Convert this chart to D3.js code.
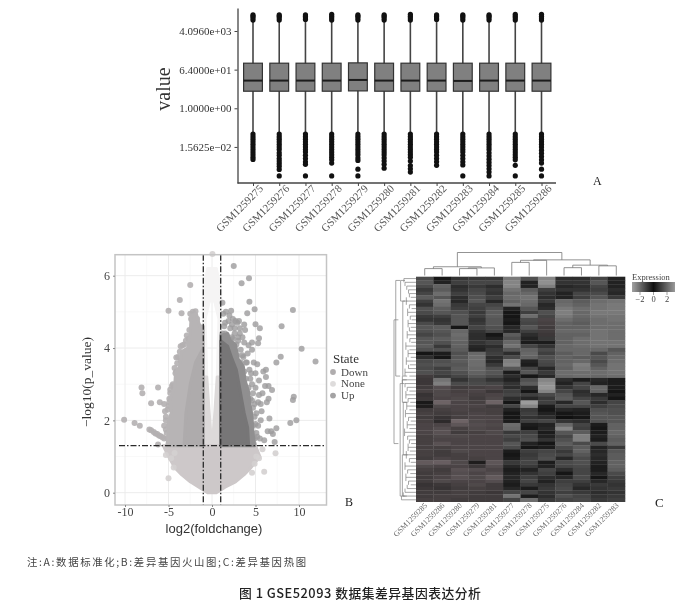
<!DOCTYPE html>
<html><head><meta charset="utf-8">
<script src="https://cdn.jsdelivr.net/npm/d3@7"></script>
<style>
html,body{margin:0;padding:0;background:#fff}
svg{display:block;filter:blur(.5px)}
text{font-family:"Liberation Serif",serif}
</style></head><body>
<svg id="c" width="700" height="613"></svg>
<script>
// ---------- Panel A: boxplots (log2 units) ----------
const boxSamples=["GSM1259275","GSM1259276","GSM1259277","GSM1259278","GSM1259279","GSM1259280","GSM1259281","GSM1259282","GSM1259283","GSM1259284","GSM1259285","GSM1259286"];
const boxQ1=[2.65,2.65,2.65,2.65,2.7,2.65,2.65,2.65,2.65,2.65,2.65,2.65];
const boxMedian=[4.3,4.3,4.3,4.3,4.4,4.3,4.3,4.3,4.25,4.3,4.3,4.3];
const boxQ3=[7.0,7.0,7.0,7.0,7.05,7.0,7.0,7.0,7.0,7.0,7.0,7.0];
const whiskerLow=-3.9, whiskerHigh=13.6;
const upperOutliers=[[13.7,14,14.3,14.5],[13.7,14,14.3,14.5],[13.8,14,14.3,14.5],[13.7,14,14.3,14.6],[13.7,14,14.3,14.5],[13.7,14,14.3,14.5],[13.7,14,14.3,14.6],[13.8,14,14.3,14.5],[13.7,14,14.3,14.5],[13.7,14,14.3,14.5],[13.7,14,14.3,14.6],[13.7,14,14.3,14.6]];
const lowerOutliers=[
[-4,-4.4,-4.8,-5.2,-5.6,-6,-6.4,-6.8,-7.2,-7.6,-7.95],
[-4,-4.4,-4.8,-5.2,-5.6,-6,-6.4,-6.9,-7.3,-7.8,-8.2,-8.6,-9,-9.5,-10.5],
[-4,-4.4,-4.8,-5.2,-5.6,-6,-6.4,-6.8,-7.3,-7.8,-8.3,-8.7,-10.5],
[-4,-4.4,-4.8,-5.2,-5.6,-6,-6.4,-6.8,-7.2,-7.6,-8,-8.5,-10.5],
[-4,-4.4,-4.8,-5.2,-5.6,-6,-6.4,-6.8,-7.2,-7.7,-8.1,-9.45,-10.5],
[-4,-4.4,-4.8,-5.2,-5.6,-6,-6.4,-6.8,-7.2,-7.7,-8.2,-8.7,-9.3],
[-4,-4.4,-4.8,-5.2,-5.6,-6,-6.4,-6.8,-7.2,-7.6,-8.2,-8.9,-9.4,-9.9],
[-4,-4.4,-4.8,-5.2,-5.6,-6,-6.4,-6.8,-7.3,-7.8,-8.3,-8.85],
[-4,-4.4,-4.8,-5.2,-5.6,-6,-6.4,-6.8,-7.3,-7.8,-8.3,-8.8,-10.5],
[-4,-4.4,-4.8,-5.2,-5.6,-6,-6.4,-6.9,-7.4,-7.9,-8.4,-8.9,-9.4,-9.9,-10.5],
[-4,-4.4,-4.8,-5.2,-5.6,-6,-6.4,-6.8,-7.2,-7.6,-8,-8.85,-10.5],
[-4,-4.4,-4.8,-5.2,-5.6,-6,-6.5,-7,-7.5,-8,-8.5,-9.45,-10.5]];
const boxTickValues=[-6,0,6,12];
const boxTickLabels=["1.5625e\u221202","1.0000e+00","6.4000e+01","4.0960e+03"];

// ---------- Panel B: volcano ----------
const upPoints=[[2.5,6.27],[3.4,5.79],[4.25,5.93],[4.3,5.28],[4.9,5.07],[1.2,5.25],[9.3,5.05],[8,4.6],[5,4.66],[5.5,4.55],[4.05,4.96],[2.2,5.03],[10.3,3.98],[11.9,3.63],[7.9,3.76],[7.4,3.6],[5.4,4.27],[5.3,4.13],[4.2,4.08],[4.6,3.95],[9.4,2.65],[9.3,2.56],[9.7,2],[9,1.93],[6.9,2.84],[6.5,2.6],[6.2,3.4],[6.2,3.2],[5.9,3.35],[5.2,3.55],[5,3.3],[4.8,3.6],[5.4,3.1],[6.1,2.95],[6.5,2.95],[5.8,2.75],[5.4,2.7],[5,2.9],[4.6,3],[5.6,2.45],[5.3,2.5],[5.7,2.25],[6.3,2.5],[5.1,2.2],[5.6,2.0],[6.6,2.05],[5.3,1.85],[5.1,1.65],[5.5,1.5],[6.4,1.7],[6.8,1.7],[7.4,1.78],[7.0,1.62],[7.2,1.4],[4.7,2.35],[4.4,2.6],[4.5,3.3],[3.9,3.6],[3.5,3.8],[4.1,3.85],[3.7,4.15],[3.0,4.2],[2.6,4.4],[3.2,4.55],[3.8,4.5],[3.7,4.65],[2.9,4.7],[2.4,4.8],[1.9,4.75],[2.1,4.55],[1.4,4.6],[2.3,4.3],[1.7,4.35],[1.3,4.25],[1.6,5.0],[3.1,4.75],[4.6,4.15],[5.0,1.9],[4.3,1.4],[4.8,1.35],[6.0,1.45],[1.3,4.95],[1.5,4.7],[2,4.9],[2.3,4.65],[2.7,4.75],[2.6,4.55],[3.2,4.4],[3,4.3],[3.5,4.3],[2.8,4.1],[3.3,3.95],[3.6,3.75],[4,3.6],[4.3,3.4],[3.7,3.35],[3.9,3.15],[4.4,3.15],[4.7,2.75],[4.2,2.9],[4.6,2.55],[4.9,2.45],[4.4,2.2],[4.9,2.1],[4.7,1.85],[5.2,1.55],[4.5,1.6],[4.9,1.5],[2.4,4.25],[2.1,4.2],[1.5,4.4],[1.2,4.4],[3.3,3.6],[2.9,3.8]];
const downPoints=[[-2.5,5.74],[-3.7,5.33],[-5,5.03],[-3.5,4.96],[-8.1,2.91],[-8,2.75],[-6.2,2.91],[-7,2.47],[-6,2.5],[-5.5,2.45],[-10.1,2.02],[-8.9,1.93],[-8.3,1.85],[-7.2,1.75],[-7,1.73],[-6.7,1.68],[-6.5,1.64],[-6.3,1.62],[-6.1,1.58],[-5.9,1.56],[-5.7,1.53],[-5.5,1.5],[-6.2,1.33],[-4.8,2.76],[-4.1,3.74],[-4,3.58],[-3.4,4.08],[-5,2.4],[-5.4,2.25],[-5.3,2],[-4.9,2.6],[-4.5,3],[-4.4,2.9],[-4.2,3.3],[-2.2,5],[-2.5,4.95],[-1.9,5.02],[-2.4,4.8],[-2.1,4.6],[-2.6,4.5],[-2.9,4.35],[-3,4.2],[-3.7,3.9],[-3.5,3.45],[-5.3,1.75],[-4.9,1.45],[-3.9,3.15],[-2.1,4.85],[-1.7,4.8],[-1.5,4.6],[-2.2,4.4],[-1.8,4.35],[-2.7,4.25],[-2.5,4.1],[-3.2,4.1],[-3.6,4.05],[-3.9,3.75],[-3.6,3.65],[-3.1,3.8],[-4.3,3.45],[-4.1,3.35],[-3.7,3.3],[-4.6,2.95],[-4.8,2.85],[-4.2,2.8],[-4.9,2.5],[-5.1,2.3],[-4.6,2.3],[-5.3,2.1],[-5.5,1.85],[-5.2,1.65],[-5.1,1.5],[-4.7,1.6],[-1.6,4.2],[-1.3,4.5]];
const nonePoints=[[-5.3,1.04],[-5,.4],[7.3,1.09],[6,.58],[5.1,1],[4.9,.8],[5.4,.95],[-4.7,.95],[-4.4,.7],[4.6,.55],[.05,6.6],[-4.3,1.1],[5.8,1.2]];
// envelopes of the dense clouds, [x, y]
const downCloud=[[-1,1.3],[-5.2,1.3],[-5,1.6],[-5.1,1.9],[-4.7,2.2],[-4.8,2.6],[-4.3,2.9],[-4.2,3.3],[-3.7,3.5],[-3.5,3.9],[-2.8,4.0],[-2.5,4.4],[-2.4,4.9],[-1.8,4.95],[-1.4,4.6],[-1,4.6]];
const downCore=[[-1,1.35],[-3.2,1.35],[-3,2.2],[-2.5,3],[-1.9,3.6],[-1,4]];
const upCloud=[[1,1.3],[4.9,1.3],[4.7,1.7],[4.6,2.1],[4.4,2.4],[4.2,2.8],[3.8,3.1],[3.6,3.5],[3,3.7],[2.7,4.1],[2.1,4.2],[1.8,4.4],[1,4.35]];
const upCore=[[1,1.35],[4.2,1.35],[4.1,1.8],[3.7,2.2],[3.4,2.6],[3.1,3],[2.8,3.4],[2.3,3.7],[1.8,4.05],[1,4.2]];
const noneCloud=[[0,0],[-.5,0],[-1.5,.15],[-2.5,.3],[-3.5,.5],[-4.3,.7],[-5,1],[-5.6,1.3],[5,1.3],[5.5,1],[4.5,.7],[3.7,.5],[2.7,.3],[1.5,.15],[.5,0]];
const noneWedgeLow=[[-1,1.3],[-1,3.2],[-.6,3.2],[-.35,2.3],[-.1,1.5],[.1,1.5],[.35,2.3],[.6,3.2],[1,3.2],[1,1.3]];
const noneWedgeHigh=[[-1,3.2],[-1,5.6],[-.5,6.2],[.5,6.2],[1,5.6],[1,3.2],[.6,3.2],[.8,4.8],[.3,5.3],[-.3,5.3],[-.8,4.8],[-.6,3.2]];
const volXTicks=[-10,-5,0,5,10], volYTicks=[0,2,4,6];
const volThresholdX=[-1,1], volThresholdY=1.3;
const stateNames=["Down","None","Up"];

// ---------- Panel C: heatmap ----------
const heatCols=["GSM1259285","GSM1259286","GSM1259280","GSM1259279","GSM1259281","GSM1259277","GSM1259278","GSM1259275","GSM1259276","GSM1259284","GSM1259282","GSM1259283"];
const heatRows=[
[-1.0,-.1,-.6,-.7,-.7,-1.8,-1.1,-2.0,-.5,-.5,-.9,-.3],
[-1.2,-.3,-.8,-.9,-.9,-2.0,-.3,-2.2,-.6,-.6,-1.2,-.3],
[-1.0,-1.4,-.5,-.7,-.5,-2.0,-.3,-1.9,-.4,-.5,-.9,-.3],
[-.7,-1.3,-.6,-.9,-.7,-1.7,-1.3,-.8,-.6,-.6,-.8,-.5],
[-.9,-1.6,-.8,-1.0,-.6,-1.5,-1.5,-.6,-.3,-.9,-1.0,-.4],
[-1.3,-1.2,-.5,-1.1,-.8,-1.6,-1.7,-.5,-.3,-.8,-1.2,-.7],
[-.8,-1.7,-.4,-1.2,-.4,-1.4,-1.6,-.7,-1.5,-1.3,-1.6,-1.7],
[-.6,-1.6,-.7,-.9,-.9,-1.7,-1.5,-.4,-1.6,-1.4,-1.7,-1.8],
[-1.1,-1.3,-.8,-.8,-1.1,-.3,-1.2,-.5,-1.8,-1.6,-1.7,-1.8],
[-1.0,-1.2,-1.1,-.7,-1.3,-.1,-.8,-1.1,-1.9,-1.5,-1.8,-1.8],
[-.7,-.8,-1.2,-.8,-1.3,-.1,-1.6,-.9,-1.8,-1.5,-1.7,-1.7],
[-.6,-.6,-1.2,-.6,-1.2,-.2,-1.0,1.2,-1.6,-1.4,-1.6,-1.7],
[-1.0,-.7,-1.2,-.7,-1.2,-.1,-.9,1.1,-1.4,-1.3,-1.6,-1.6],
[-1.2,-1.3,-.1,-.9,-1.1,-.4,-1.2,1.0,-1.4,-1.4,-1.6,-1.6],
[-1.1,-1.2,-1.5,-.6,-.9,-.4,-.8,1.0,-1.5,-1.5,-1.7,-1.6],
[-.9,-1.1,-1.6,-.5,-.1,-1.3,-.5,.9,-1.4,-1.4,-1.7,-1.6],
[-1.2,-1.3,-1.5,-.5,-.3,-1.1,-.3,-.7,-1.4,-1.6,-1.7,-1.6],
[-1.2,-1.1,-1.4,-.6,-.8,-1.5,-.2,-.2,-1.4,-1.6,-1.7,-1.7],
[-1.3,-.7,-1.4,-.4,-.5,-1.7,-.9,-.6,-1.5,-1.6,-1.7,-1.7],
[-1.1,-1.1,-1.3,-.3,-.7,-1.2,-1.4,-1.0,-1.5,-1.5,-1.5,-1.2],
[-.1,-.2,-1.1,-1.5,-.8,-.5,-1.5,-.8,-1.3,-1.5,-1.0,-1.4],
[-.5,-.1,-1.2,-1.6,-.5,-1.0,-1.4,-1.1,-1.4,-1.3,-1.2,-1.5],
[-1.0,-1.1,-1.3,-1.6,-.4,-1.9,-.3,-1.0,-1.4,-1.5,-1.0,-1.6],
[-1.1,-1.2,-1.2,-1.6,-.7,-2.0,-.2,-.9,-1.5,-1.9,-1.2,-1.7],
[-1.0,-.8,-1.3,-1.5,-1.1,-1.2,-.9,-.4,-1.4,-1.8,-1.4,-1.7],
[-1.1,-.9,-1.1,-1.4,-1.2,-.2,-1.2,-.7,-1.6,-1.6,-1.6,-1.7],
[1.0,-.7,-.9,-1.2,-1.0,-.5,-.1,-.4,-1.5,-1.6,-1.5,-1.6],
[.9,-1.7,-.6,-.9,-.6,-.3,-1.1,-2.0,-.5,-.2,-.4,-.2],
[.9,-1.9,-1.0,-1.0,-.9,-.6,-1.3,-2.2,-.3,-.9,-.3,-.2],
[1.0,1.4,1.0,1.1,1.2,-.5,-.5,-2.3,-.6,-.9,-1.5,-.2],
[1.1,1.3,1.1,1.2,.9,-.8,-.1,-2.0,-.9,-.5,-1.4,-.1],
[.8,1.3,1.2,1.1,1.2,-.9,-.8,-1.0,-1.2,-.6,-.4,-.3],
[.9,1.2,1.3,1.0,1.3,-.5,-.4,-.7,-1.3,-.9,-.7,-.1],
[.2,1.9,1.2,1.1,1.9,-.1,-2.4,-.8,-.4,-1.2,-.5,-.9],
[.3,1.3,1.2,1.2,1.0,-.9,-2.0,-.2,-.9,-.9,-.8,-1.0],
[1.0,1.1,1.2,1.1,1.1,-.3,-.7,-.1,-.4,-.3,-1.1,-1.1],
[1.1,1.0,1.1,1.2,1.1,-.1,-.8,-.3,-.1,-.2,-1.2,-1.1],
[1.0,.8,1.1,1.2,1.2,-.1,-.6,-.5,0,-.1,-1.2,-1.2],
[1.1,.6,1.9,1.3,1.2,-.2,-.8,-.9,-.6,-.5,-1.1,-1.2],
[1.2,1.2,1.6,1.4,1.3,-1.6,-.2,-.3,-1.5,-.9,-.2,-1.4],
[1.2,1.4,1.1,1.3,1.2,-1.5,-.1,-.4,-2.0,-.8,-.1,-1.4],
[1.2,1.5,1.0,1.1,1.3,-.7,-.8,-.2,-1.2,-1.3,-.2,-1.5],
[1.1,1.3,1.3,1.2,1.2,-1.0,-1.0,-.3,-.9,-1.9,-.3,-1.4],
[1.1,1.2,1.2,1.2,1.2,-.8,-1.1,-.6,-1.1,-1.9,-.2,-1.3],
[1.1,1.5,1.2,1.2,1.2,-1.2,-.3,-.1,-1.3,-1.0,-1.0,-1.4],
[1.1,1.1,1.2,1.2,1.2,-1.0,-.1,-.2,-1.0,-1.3,-.3,-.7],
[1.1,1.0,1.3,1.2,1.2,-.2,-.8,-.9,-.7,-1.4,-.4,-1.2],
[1.1,1.0,1.1,1.2,1.2,-.1,-.7,-1.0,-.9,-1.2,-.5,-1.3],
[1.0,1.2,1.1,1.1,1.2,-.2,-.8,-1.1,-.4,-1.0,-.4,-1.3],
[1.7,1.8,1.3,.3,1.6,-.7,-.9,-.2,-1.0,-1.1,-.3,-1.4],
[1.3,1.2,1.2,.9,1.4,-.4,-.7,-.3,-.9,-1.0,-.2,-1.4],
[1.1,1.0,1.5,1.4,1.2,-.2,-.3,-.9,-.5,-.9,-.2,-1.3],
[1.0,1.1,1.4,1.2,1.4,-.3,-.6,-.8,-.1,-.9,-.4,-1.0],
[1.0,1.2,1.5,1.3,1.7,-.4,-.8,-.5,-.4,-1.0,-.1,-.8],
[1.0,1.3,1.2,1.2,1.4,-.3,-.9,-.3,-.8,-.8,-.4,-.7],
[.8,.9,1.1,1.3,1.0,-.2,-.7,-.6,-.9,-.6,-.7,-.6],
[.9,.8,1.0,1.1,1.0,-.4,-.2,-.7,-1.0,-.4,-.6,-.7],
[1.0,1.0,1.1,1.0,.9,-.9,-.9,-.6,-.8,-.7,-.5,-.6],
[1.0,1.1,1.1,1.0,1.0,-1.7,-.2,-.5,-1.1,-.9,-.6,-.7],
[1.1,1.1,1.0,1.0,1.0,-.9,-1.6,-.7,-.9,-1.0,-.7,-.8]];
const heatColorStops=[-2.5,0,2.5];
const heatColorRange=["#a2a2a2","#101010","#8a7d80"];
const legendTicks=[-2,0,2];
// dendrograms: [height,left,right], leaves are column positions
const colTree=[1,[.38,[.3,0,1],[.33,[.3,2,3],4]],[.68,[.66,[.57,5,6],7],[.45,[.34,8,9],[.42,10,11]]]];
const rowLeafHeight=[.55,.5,.42,.34,.3,.24,.44,.3,.2,.38,.26,.2,.36,.24,.3,.4,.28,.22,.46,.3,.36,.24,.44,.28,.34,.5,.3,.62,.5,.4,.3,.46,.36,.26,.42,.3,.48,.34,.24,.4,.3,.52,.38,.3,.22,.36,.28,.44,.3,.24,.5,.38,.26,.46,.34,.24,.4,.5,.58,.66];
const rowBrackets=[[0.5,26,.92],[28,58,.72],[11,44,1],[0.5,6,.7],[6,26,.6],[27,33,.62],[33,47,.58],[47,58,.62]];

// ---------- Drawing ----------
const svg=d3.select("#c");

// A
const ax=d3.scalePoint().domain(boxSamples).range([253,541.5]);
const ay=d3.scaleLinear().domain([-11.6,15.57]).range([183,8]);
const A=svg.append("g");
const ayAxis=A.append("g").attr("transform","translate(237.5,0)")
  .call(d3.axisLeft(ay).tickValues(boxTickValues).tickFormat((d,i)=>boxTickLabels[i]).tickSizeInner(3).tickSizeOuter(0).tickPadding(3));
const axAxis=A.append("g").attr("transform","translate(0,183)")
  .call(d3.axisBottom(ax).tickSizeInner(3).tickSizeOuter(0));
axAxis.select(".domain").attr("d","M237.5,0H556");
[ayAxis,axAxis].forEach(g=>{g.select(".domain").attr("stroke","#444").attr("stroke-width",1.3);g.selectAll("line").attr("stroke","#444")});
ayAxis.selectAll("text").attr("font-size",11).attr("fill","#333").style("font-family","Liberation Serif");
axAxis.selectAll("text").attr("font-size",10.8).attr("fill","#555").style("font-family","Liberation Serif")
  .attr("text-anchor","end").attr("transform","translate(3,-1) rotate(-45)").attr("dy","0.4em").attr("dx","0");
A.append("text").attr("transform","translate(170,89) rotate(-90)").attr("text-anchor","middle").attr("font-size",20).attr("fill","#333").text("value");
boxSamples.forEach((s,i)=>{
  const g=A.append("g"),x=ax(s);
  g.append("line").attr("x1",x).attr("x2",x).attr("y1",ay(whiskerHigh)).attr("y2",ay(whiskerLow)).attr("stroke","#444").attr("stroke-width",1.6);
  g.append("rect").attr("x",x-9.4).attr("width",18.8).attr("y",ay(boxQ3[i])).attr("height",ay(boxQ1[i])-ay(boxQ3[i])).attr("fill","#808080").attr("stroke","#333").attr("stroke-width",1.2);
  g.append("line").attr("x1",x-9.4).attr("x2",x+9.4).attr("y1",ay(boxMedian[i])).attr("y2",ay(boxMedian[i])).attr("stroke","#1c1c1c").attr("stroke-width",2);
  g.selectAll("circle").data(lowerOutliers[i].concat(upperOutliers[i])).join("circle")
    .attr("cx",x).attr("cy",d=>ay(d)).attr("r",2.6).attr("fill","#111");
});
svg.append("text").attr("x",593).attr("y",185).attr("font-size",12).attr("fill","#222").text("A");

// B
const vx=d3.scaleLinear().domain([-10,10]).range([125,299]);
const vy=d3.scaleLinear().domain([0,6]).range([492.7,275.7]);
const B=svg.append("g");
const vL=115,vR=326.5,vT=254.7,vB=505;
[-7.5,-2.5,2.5,7.5].forEach(t=>B.append("line").attr("x1",vx(t)).attr("x2",vx(t)).attr("y1",vT).attr("y2",vB).attr("stroke","#f5f5f5").attr("stroke-width",.6));
[1,3,5].forEach(t=>B.append("line").attr("x1",vL).attr("x2",vR).attr("y1",vy(t)).attr("y2",vy(t)).attr("stroke","#f5f5f5").attr("stroke-width",.6));
volXTicks.forEach(t=>B.append("line").attr("x1",vx(t)).attr("x2",vx(t)).attr("y1",vT).attr("y2",vB).attr("stroke","#ececec"));
volYTicks.forEach(t=>B.append("line").attr("x1",vL).attr("x2",vR).attr("y1",vy(t)).attr("y2",vy(t)).attr("stroke","#ececec"));
const poly=d3.line().x(d=>vx(d[0])).y(d=>vy(d[1])).curve(d3.curveLinearClosed);
const blob=(data,col)=>B.append("path").attr("d",poly(data)).attr("fill",col).attr("stroke",col).attr("stroke-width",3).attr("stroke-linejoin","round");
blob(noneWedgeHigh,"#f5f4f4");blob(noneWedgeLow,"#dcd9d9");blob(noneCloud,"#cdc8c9");
const dots=(data,col,op)=>B.append("g").selectAll("circle").data(data).join("circle")
  .attr("cx",d=>vx(d[0])).attr("cy",d=>vy(d[1])).attr("r",3).attr("fill",col).attr("opacity",op);
dots(nonePoints,"#d4d0d0",.9);dots(downPoints,"#b4b0b1",.9);dots(upPoints,"#9c9b9c",.8);
blob(downCloud,"#b7b4b5");blob(downCore,"#aeabac");blob(upCloud,"#908f90");blob(upCore,"#777677");
const dash="6,2,1.5,2";
volThresholdX.forEach(t=>B.append("line").attr("x1",vx(t)).attr("x2",vx(t)).attr("y1",vT).attr("y2",vB).attr("stroke","#2a2a2a").attr("stroke-width",1.3).attr("stroke-dasharray",dash));
B.append("line").attr("x1",119).attr("x2",vR).attr("y1",vy(volThresholdY)).attr("y2",vy(volThresholdY)).attr("stroke","#2a2a2a").attr("stroke-width",1.3).attr("stroke-dasharray",dash);
B.append("rect").attr("x",vL).attr("y",vT).attr("width",vR-vL).attr("height",vB-vT).attr("fill","none").attr("stroke","#c4c4c4").attr("stroke-width",1.5);
const vxA=B.append("g").attr("transform",`translate(0,${vB})`).call(d3.axisBottom(vx).tickValues(volXTicks).tickSize(2).tickPadding(0).tickFormat(d=>d<0?"-"+(-d):d));
const vyA=B.append("g").attr("transform",`translate(${vL},0)`).call(d3.axisLeft(vy).tickValues(volYTicks).tickSize(2).tickPadding(3).tickFormat(d=>d));
[vxA,vyA].forEach(g=>{g.select(".domain").remove();g.selectAll("line").attr("stroke","#888");g.selectAll("text").attr("font-size",12).attr("fill","#444").style("font-family","Liberation Serif")});
B.append("text").attr("x",214).attr("y",533).attr("text-anchor","middle").attr("font-size",13).attr("fill","#333").style("font-family","Liberation Sans").text("log2(foldchange)");
B.append("text").attr("transform","translate(91,382) rotate(-90)").attr("text-anchor","middle").attr("font-size",13.5).attr("fill","#333").text("\u2212log10(p_value)");
B.append("text").attr("x",333).attr("y",363).attr("font-size",13).attr("fill","#333").text("State");
const legCols=["#b0adae","#dedcdc","#a4a3a4"];
stateNames.forEach((s,i)=>{const y=372+i*11.8;
  B.append("circle").attr("cx",333).attr("cy",y).attr("r",2.9).attr("fill",legCols[i]);
  B.append("text").attr("x",341).attr("y",y+3.5).attr("font-size",11).attr("fill","#444").text(s);});
svg.append("text").attr("x",345).attr("y",506).attr("font-size",12).attr("fill","#222").text("B");

// C
const hx=d3.scaleBand().domain(d3.range(heatCols.length)).range([416,625]);
const hy=d3.scaleBand().domain(d3.range(heatRows.length)).range([276.7,501.7]);
const hc=d3.scaleLinear().domain(heatColorStops).range(heatColorRange);
const C=svg.append("g");
heatRows.forEach((r,i)=>C.append("g").selectAll("rect").data(r).join("rect")
  .attr("x",(d,j)=>hx(j)).attr("y",hy(i)).attr("width",hx.bandwidth()+.3).attr("height",hy.bandwidth()+.3).attr("fill",d=>hc(d)));
// column dendrogram
const dy=d3.scaleLinear().domain([0,1]).range([275.5,252.5]);
function drawCol(n){
  if(typeof n==="number")return{x:hx(n)+hx.bandwidth()/2,h:0};
  const a=drawCol(n[1]),b=drawCol(n[2]);
  C.append("path").attr("fill","none").attr("stroke","#777").attr("stroke-width",.8)
   .attr("d",`M${a.x},${dy(a.h)}V${dy(n[0])}H${b.x}V${dy(b.h)}`);
  return{x:(a.x+b.x)/2,h:n[0]};
}
drawCol(colTree);
// row dendrogram
const dx=d3.scaleLinear().domain([0,1]).range([416,394]);
const rowY=i=>hy.step()*i+276.7+hy.bandwidth()/2;
const lp=C.append("g").attr("fill","none").attr("stroke","#808080").attr("stroke-width",.7);
rowLeafHeight.forEach((h,i)=>{
  lp.append("line").attr("x1",dx(0)).attr("x2",dx(h)).attr("y1",rowY(i)).attr("y2",rowY(i));
  if(i<rowLeafHeight.length-1)lp.append("line").attr("x1",dx(Math.max(h,rowLeafHeight[i+1]))).attr("x2",dx(Math.max(h,rowLeafHeight[i+1]))).attr("y1",rowY(i)).attr("y2",rowY(i+1));
});
rowBrackets.forEach(b=>lp.append("path").attr("d",`M${dx(b[2]-.2)},${rowY(b[0])}H${dx(b[2])}V${rowY(b[1])}H${dx(b[2]-.2)}`));
heatCols.forEach((c,i)=>C.append("text").attr("transform",`translate(${hx(i)+hx.bandwidth()/2+3},506) rotate(-45)`)
  .attr("text-anchor","end").attr("font-size",7.8).attr("fill","#666").text(c));
// colour legend
const defs=svg.append("defs"),lg=defs.append("linearGradient").attr("id","hg");
heatColorStops.forEach((v,i)=>lg.append("stop").attr("offset",(i*50)+"%").attr("stop-color",i==2?"#9a9a9a":heatColorRange[i]));
C.append("rect").attr("x",632).attr("y",282).attr("width",43).attr("height",10).attr("fill","url(#hg)");
C.append("text").attr("x",632).attr("y",280).attr("font-size",8.5).attr("fill","#444").text("Expression");
const lx=d3.scaleLinear().domain([-2,2]).range([640,667]);
legendTicks.forEach(t=>{C.append("text").attr("x",lx(t)).attr("y",302).attr("text-anchor","middle").attr("font-size",8.5).attr("fill","#444").text(t<0?"\u2212"+(-t):t);
  C.append("line").attr("x1",lx(t)).attr("x2",lx(t)).attr("y1",292).attr("y2",295).attr("stroke","#777").attr("stroke-width",.7);});
svg.append("text").attr("x",655).attr("y",507).attr("font-size",13).attr("fill","#222").text("C");

// captions
svg.append("text").attr("x",27).attr("y",566).attr("font-size",10.4).attr("letter-spacing",1.65).attr("fill","#444").style("font-family","Noto Sans CJK SC").text("注:A:数据标准化;B:差异基因火山图;C:差异基因热图");
svg.append("text").attr("x",239).attr("y",598).attr("font-size",12.8).attr("letter-spacing",.5).attr("font-weight",500).attr("fill","#222").style("font-family","Noto Sans CJK SC").text("图 1  GSE52093 数据集差异基因表达分析");
</script></body></html>
